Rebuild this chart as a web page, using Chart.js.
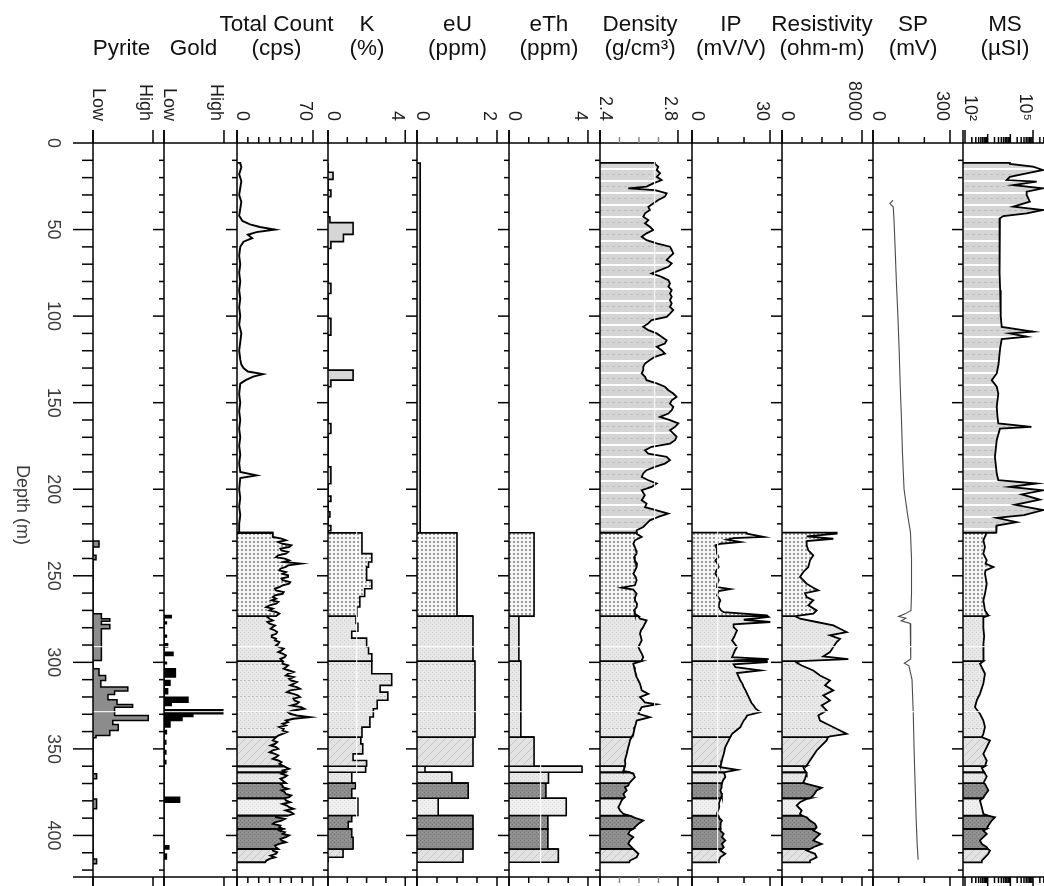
<!DOCTYPE html>
<html>
<head>
<meta charset="utf-8">
<title>Borehole logs</title>
<script src="https://cdn.jsdelivr.net/npm/chart.js@4.4.1/dist/chart.umd.min.js"></script>
<style>
  html, body { margin: 0; padding: 0; background: #fff; }
  #wrap { position: relative; width: 1044px; height: 886px; }
</style>
</head>
<body>
<div id="wrap"><canvas id="logChart" width="1044" height="886"></canvas></div>
<script>
// ---- data (depth in m) ----
const zoneTops    = [11.5, 225.1, 273.3, 299.3, 343.2, 360.0, 363.5, 369.8, 378.5, 388.5, 396.2, 407.8];
const zoneBottoms = [225.1, 273.3, 299.3, 343.2, 360.0, 363.5, 369.8, 378.5, 388.5, 396.2, 407.8, 415.5];

const depthLabels = [0, 50, 100, 150, 200, 250, 300, 350, 400];

const trackTitle = ['', '', 'Total Count', 'K', 'eU', 'eTh', 'Density', 'IP', 'Resistivity', 'SP', 'MS'];
const trackUnit  = ['Pyrite', 'Gold', '(cps)', '(%)', '(ppm)', '(ppm)', '(g/cm³)', '(mV/V)', '(ohm-m)', '(mV)', '(µSI)'];
const axisLabelText  = [['Low', 'High'], ['Low', 'High'], ['0', '70'], ['0', '4'], ['0', '2'], ['0', '4'],
                        ['2.4', '2.8'], ['0', '30'], ['0', '8000'], ['0', '300'], ['10²', '10⁵']];
const axisLabelValue = [[0, 1], [0, 1], [0, 70], [0, 4], [0, 2], [0, 4], [2.4, 2.8], [0, 30], [0, 8000], [0, 300], [100, 100000]];
const axisTickValue  = [[0, 1], [0, 1], [0, 10, 20, 30, 40, 50, 60, 70], [0, 1, 2, 3, 4], [0, 0.5, 1, 1.5, 2], [0, 1, 2, 3, 4],
                        [2.4, 2.5, 2.6, 2.7, 2.8], [0, 10, 20, 30], [0, 2000, 4000, 6000, 8000], [0, 100, 200, 300], []];
// faint white reference lines seen inside the fills
const whiteDepthLines = [291, 328.4];
const whiteValueLines = {k: 1.5, eth: 1.6, den: 2.68, ip: 10};

// [top, bottom, value]
const pyriteSteps = [[229.9, 233.4, 0.1], [238.2, 240.7, 0.05], [271.9, 274.8, 0.14], [274.8, 276.2, 0.28], [276.2, 278.1, 0.14],
  [278.1, 280.6, 0.28], [280.6, 298.9, 0.14], [303.7, 307.6, 0.1], [307.6, 310.5, 0.21], [310.5, 314.3, 0.13],
  [314.3, 316.6, 0.58], [316.6, 318.6, 0.36], [318.6, 321.6, 0.25], [321.6, 324.3, 0.4], [324.3, 325.9, 0.66],
  [325.9, 330.7, 0.36], [330.7, 333.6, 0.92], [333.6, 335.9, 0.33], [335.9, 339.4, 0.42], [339.4, 342.3, 0.28],
  [342.3, 343.6, 0.05], [364.4, 367.3, 0.06], [378.9, 384.6, 0.06], [413.6, 416.4, 0.06]];

const goldSteps = [[272.9, 274.2, 0.12], [276.7, 277.7, 0.04], [284.4, 285.4, 0.04], [289.3, 291.2, 0.06], [294.1, 296.0, 0.15],
  [299.9, 300.8, 0.04], [303.7, 308.5, 0.19], [310.5, 313.3, 0.1], [315.3, 318.2, 0.06], [320.1, 323.0, 0.4],
  [323.0, 324.9, 0.12], [327.4, 329.7, 0.98], [329.7, 331.3, 0.48], [331.3, 333.6, 0.3], [333.6, 337.4, 0.1],
  [339.4, 341.3, 0.04], [345.1, 347.1, 0.03], [350.9, 352.9, 0.03], [356.7, 358.6, 0.03], [377.9, 380.8, 0.26],
  [405.9, 407.8, 0.08], [410.7, 413.6, 0.04]];

const kSteps = [[16.9, 21.0, 0.26], [27.2, 31.0, 0.15], [42.6, 46.0, 0.1], [46.0, 52.8, 1.3], [52.8, 57.0, 0.8], [57.0, 60.9, 0.15],
  [81.1, 86.9, 0.15], [101.3, 111.0, 0.15], [131.2, 137.0, 1.3], [137.0, 140.8, 0.15], [162.0, 167.8, 0.15], [187.1, 196.8, 0.15],
  [204, 207, 0.15], [213, 216, 0.1], [221, 224, 0.15],
  [225.1, 237.2, 1.76], [237.2, 242, 2.27], [242, 245, 2.1], [245, 252.6, 2.0], [252.6, 257.5, 2.27], [257.5, 262, 1.9],
  [262, 268, 1.65], [268, 273.3, 1.5],
  [273.3, 277.5, 1.45], [277.5, 282, 1.55], [282, 286, 1.23], [286, 291, 2.0], [291, 295, 2.1], [295, 299.3, 2.27],
  [299.3, 306.6, 2.27], [306.6, 313.3, 3.3], [313.3, 317.2, 2.7], [317.2, 321.9, 3.1], [321.9, 326.8, 2.55],
  [326.8, 331.6, 2.35], [331.6, 337.4, 2.17], [337.4, 343.2, 1.76],
  [343.2, 347.1, 1.7], [347.1, 352.9, 1.8], [352.9, 356.7, 1.3], [356.7, 360, 2.0],
  [360, 363.5, 1.95], [363.5, 369.8, 1.23], [369.8, 373, 1.43], [373, 378.5, 1.23], [378.5, 388.5, 1.55],
  [388.5, 392, 1.23], [392, 396.2, 1.05], [396.2, 401, 1.23], [401, 407.8, 1.3], [407.8, 412.6, 0.78]];

const euSteps = [[11.6, 225.1, 0.08], [225.1, 273.3, 1.0], [273.3, 299.3, 1.4], [299.3, 343.2, 1.45], [343.2, 360, 1.4],
  [360, 363.5, 0.2], [363.5, 369.8, 0.87], [369.8, 378.5, 1.28], [378.5, 388.5, 0.53], [388.5, 396.2, 1.4],
  [396.2, 407.8, 1.4], [407.8, 415.5, 1.15]];

const ethSteps = [[225.1, 273.3, 1.27], [273.3, 299.3, 0.5], [299.3, 343.2, 0.6], [343.2, 360, 1.27], [360, 363.5, 3.7],
  [363.5, 369.8, 2.0], [369.8, 378.5, 1.87], [378.5, 388.5, 2.9], [388.5, 396.2, 1.97], [396.2, 407.8, 1.97],
  [407.8, 415.5, 2.5]];

// [depth, value]
const totalCount = [[11.6, 3], [14, 4], [18, 2], [22, 4], [26, 3], [30, 2], [34, 4], [38, 3], [42, 2], [45, 5], [47, 12],
  [48.5, 21], [50, 35], [51.5, 18], [53, 10], [55, 14], [57, 6], [60, 3], [65, 2], [70, 3], [75, 2], [80, 3], [85, 2],
  [90, 3], [95, 2], [100, 3], [105, 2], [110, 4], [115, 3], [120, 2], [125, 3], [128, 4], [130, 6], [132, 10],
  [133.5, 24], [135, 15], [137, 8], [139, 3], [145, 2], [150, 3], [155, 2], [160, 3], [165, 2], [170, 3], [175, 2],
  [180, 3], [185, 2], [190, 3], [192, 18], [193.5, 3], [200, 2], [205, 3], [210, 2], [215, 3], [220, 2], [225.1, 2],
  [225.1, 33], [227.6, 33], [228.5, 41], [229.5, 45], [230.5, 38], [231.5, 42], [232.4, 50], [233.4, 48], [234.3, 40],
  [235.3, 41], [236.2, 47], [237.2, 45], [238.2, 38], [239.2, 36], [240.1, 44], [241.1, 48], [242.0, 43], [243.0, 59],
  [244.0, 47], [244.9, 45], [245.9, 40], [246.9, 39], [247.8, 45], [248.8, 42], [249.7, 47], [250.7, 47], [251.6, 41],
  [252.6, 42], [253.6, 49], [254.6, 48], [255.5, 42], [256.5, 39], [257.4, 35], [258.4, 36], [259.4, 43], [260.4, 42],
  [261.3, 35], [262.3, 33], [263.2, 36], [264.2, 32], [265.1, 38], [266.1, 36], [267.1, 30], [268.1, 27], [269.0, 33],
  [270.0, 30], [270.9, 36], [271.9, 39], [273.3, 36],
  [273.3, 27], [274.8, 30], [275.8, 33], [276.7, 28], [277.7, 30], [278.7, 35], [279.6, 33], [280.6, 31], [281.6, 35],
  [282.5, 37], [283.5, 36], [284.4, 32], [285.4, 32], [286.4, 36], [287.3, 35], [288.3, 39], [289.3, 38], [290.2, 36],
  [291.2, 39], [292.1, 43], [293.1, 41], [294.1, 38], [295.0, 42], [296.0, 45], [297.0, 44], [298.0, 40], [299.3, 42],
  [300.8, 42], [301.8, 47], [302.8, 45], [303.7, 43], [304.7, 48], [305.6, 52], [306.6, 47], [307.6, 45], [308.5, 52],
  [309.5, 48], [310.5, 50], [311.4, 55], [312.4, 52], [313.3, 49], [314.3, 55], [315.3, 58], [316.2, 49], [317.2, 46],
  [318.2, 52], [319.1, 56], [320.1, 58], [321.0, 52], [322.0, 53], [323.0, 57], [324.0, 55], [324.9, 50], [325.9, 59],
  [326.8, 62], [327.8, 52], [328.8, 47], [329.7, 49], [330.7, 55], [331.7, 67], [332.6, 52], [333.6, 45], [334.5, 47],
  [335.5, 42], [336.5, 45], [337.4, 39], [338.4, 43], [339.4, 42], [340.3, 46], [341.3, 42], [342.3, 38], [343.2, 36],
  [345.1, 33], [346.1, 37], [347.1, 35], [348.0, 31], [349.0, 36], [350.0, 38], [350.9, 33], [351.9, 30], [352.9, 35],
  [353.8, 38], [354.8, 36], [355.7, 33], [356.7, 38], [357.7, 41], [358.6, 39], [360.0, 43], [360.6, 45], [361.5, 48],
  [362.5, 42], [363.5, 44], [364.4, 41], [365.4, 46], [366.3, 44], [367.3, 40], [368.3, 42], [369.8, 45], [369.8, 39],
  [371.2, 42], [372.1, 42], [373.1, 47], [374.0, 41], [375.0, 44], [376.0, 45], [376.9, 50], [377.9, 48], [378.5, 44],
  [379.8, 45], [380.8, 49], [381.8, 42], [382.7, 46], [383.7, 48], [384.6, 52], [385.6, 45], [386.6, 50], [387.5, 52],
  [388.5, 47], [388.5, 36], [389.5, 36], [390.4, 44], [391.4, 41], [392.4, 35], [393.3, 33], [394.3, 40], [395.2, 39],
  [396.2, 42], [397.2, 39], [398.1, 44], [399.1, 42], [400.0, 48], [401.0, 45], [402.0, 40], [402.9, 41], [403.9, 45],
  [404.9, 39], [405.8, 35], [406.8, 36], [407.8, 38], [407.8, 33], [408.7, 33], [409.7, 37], [410.6, 36], [411.6, 31],
  [412.6, 35], [413.5, 30], [414.5, 27], [415.5, 26]];

const density = [[12.1, 2.682], [13.7, 2.699], [15.6, 2.691], [17.5, 2.708], [19.5, 2.691], [21.4, 2.716], [23.3, 2.673],
  [25.2, 2.639], [26.2, 2.545], [27.2, 2.682], [29.1, 2.742], [31.0, 2.733], [32.9, 2.699], [34.9, 2.673], [36.8, 2.648],
  [38.7, 2.656], [40.6, 2.631], [42.6, 2.622], [44.5, 2.648], [46.4, 2.631], [48.4, 2.656], [50.3, 2.673], [52.2, 2.639],
  [54.1, 2.614], [56.1, 2.639], [58.0, 2.691], [59.9, 2.759], [61.8, 2.768], [63.8, 2.776], [65.7, 2.759], [67.6, 2.742],
  [69.5, 2.768], [71.5, 2.751], [73.4, 2.708], [75.3, 2.665], [77.3, 2.716], [79.2, 2.751], [81.1, 2.759], [83.0, 2.751],
  [85.0, 2.768], [86.9, 2.759], [88.8, 2.768], [90.8, 2.759], [92.7, 2.768], [94.6, 2.759], [96.5, 2.776], [98.5, 2.759],
  [100.4, 2.742], [102.3, 2.665], [104.2, 2.648], [106.2, 2.622], [108.1, 2.648], [110.0, 2.691], [111.9, 2.716],
  [113.9, 2.742], [115.8, 2.733], [117.7, 2.691], [119.7, 2.716], [121.6, 2.733], [123.5, 2.682], [125.4, 2.656],
  [127.4, 2.631], [129.3, 2.622], [131.2, 2.622], [133.1, 2.614], [135.1, 2.631], [137.0, 2.639], [138.9, 2.691],
  [140.8, 2.733], [142.8, 2.751], [144.7, 2.776], [146.6, 2.793], [148.6, 2.768], [150.5, 2.759], [152.4, 2.776],
  [154.3, 2.768], [156.3, 2.751], [158.2, 2.708], [160.1, 2.759], [162.0, 2.802], [164.0, 2.785], [165.9, 2.759],
  [167.8, 2.776], [169.7, 2.793], [171.7, 2.785], [173.6, 2.759], [175.5, 2.665], [177.5, 2.631], [179.4, 2.648],
  [181.3, 2.742], [183.2, 2.759], [185.2, 2.733], [187.1, 2.682], [189.0, 2.639], [190.9, 2.622], [192.9, 2.614],
  [194.8, 2.648], [196.7, 2.691], [198.7, 2.665], [200.6, 2.614], [203.5, 2.63], [206.4, 2.614], [208.3, 2.639],
  [210.3, 2.631], [212.2, 2.691], [214.1, 2.750], [216.0, 2.699], [218.0, 2.656], [219.9, 2.639], [221.8, 2.622],
  [223.7, 2.588], [225.1, 2.588],
  [225.7, 2.588], [227.6, 2.614], [229.5, 2.579], [231.5, 2.571], [233.4, 2.579], [235.3, 2.585], [237.2, 2.588],
  [239.2, 2.575], [241.1, 2.579], [243.0, 2.59], [244.9, 2.588], [246.9, 2.58], [248.8, 2.571], [250.7, 2.583],
  [252.6, 2.588], [255.5, 2.579], [256.9, 2.511], [258.0, 2.571], [260.4, 2.588], [262.3, 2.58], [264.2, 2.579],
  [266.1, 2.59], [268.1, 2.588], [270.0, 2.575], [271.9, 2.579], [273.3, 2.597],
  [274.8, 2.605], [275.8, 2.639], [277.7, 2.63], [279.6, 2.622], [281.6, 2.61], [283.5, 2.605], [285.4, 2.61],
  [287.3, 2.614], [289.3, 2.605], [291.2, 2.597], [293.1, 2.605], [295.0, 2.614], [297.0, 2.622], [298.9, 2.614],
  [299.3, 2.614],
  [300.8, 2.571], [302.8, 2.575], [304.7, 2.579], [306.6, 2.584], [308.5, 2.588], [310.5, 2.597], [312.4, 2.605],
  [314.3, 2.61], [316.2, 2.614], [318.2, 2.648], [320.1, 2.605], [322.0, 2.622], [323.2, 2.63], [324.3, 2.691],
  [325.9, 2.614], [327.8, 2.605], [329.7, 2.597], [331.7, 2.656], [333.6, 2.588], [335.5, 2.584], [337.4, 2.579],
  [339.4, 2.575], [341.3, 2.571], [343.2, 2.562],
  [345.1, 2.554], [347.1, 2.55], [349.0, 2.545], [350.9, 2.541], [352.9, 2.537], [354.8, 2.532], [356.7, 2.528],
  [358.6, 2.53], [360.0, 2.528], [361.5, 2.524], [362.5, 2.520], [363.5, 2.55], [364.4, 2.571], [366.3, 2.579],
  [368.3, 2.562], [369.8, 2.55], [371.2, 2.545], [372.1, 2.528], [374.0, 2.537], [376.0, 2.520], [377.9, 2.528],
  [378.5, 2.52], [379.8, 2.511], [381.8, 2.503], [383.7, 2.494], [385.6, 2.503], [387.5, 2.520], [388.5, 2.55],
  [389.5, 2.571], [391.4, 2.622], [393.3, 2.597], [395.2, 2.579], [396.2, 2.57], [397.2, 2.554], [399.1, 2.545],
  [401.0, 2.571], [402.9, 2.554], [404.9, 2.545], [406.8, 2.562], [407.8, 2.57], [408.7, 2.579], [410.6, 2.597],
  [412.6, 2.588], [414.5, 2.554], [415.5, 2.55]];

const ipLog = [[225.1, 21], [225.7, 21.2], [227.6, 27.6], [228.3, 16], [229.1, 13.5], [230.5, 18.6], [231.5, 11],
  [232.4, 9.0], [234.3, 9.5], [237.2, 9.6], [239.2, 10.2], [241.1, 9.0], [243.0, 9.8], [244.9, 10.3], [246.9, 9.4],
  [248.8, 9.0], [250.7, 9.8], [252.6, 10.3], [254.6, 9.7], [256.5, 9.6], [257.7, 14.7], [258.8, 10.3], [261.3, 9.6],
  [262.3, 10.1], [264.2, 10.9], [266.1, 10.4], [268.1, 10.3], [270.0, 11.2], [271.0, 12.2], [272.9, 28.8], [273.3, 29],
  [273.8, 29.5], [275.4, 19.9], [276.7, 30.1], [278.1, 16.0], [279.6, 16.0], [281.6, 17.3], [283.5, 16.7], [285.4, 16.2],
  [287.3, 15.4], [289.3, 16.4], [291.2, 17.3], [293.1, 16.5], [295.0, 16.0], [297.0, 15.4], [298.1, 29.5], [298.9, 16.0],
  [299.3, 28.8], [299.9, 28.8], [301.2, 16.0], [302.8, 16.7], [304.7, 26.3], [306.2, 17.3], [308.5, 18.0], [310.5, 18.6],
  [312.4, 19.4], [314.3, 19.9], [316.2, 20.6], [318.2, 21.2], [320.1, 21.8], [322.0, 22.4], [323.5, 22.9], [324.9, 23.7],
  [326.8, 24.5], [328.8, 26.3], [330.7, 21.2], [332.6, 20.5], [333.6, 19.9], [335.5, 19.2], [337.4, 18.6], [339.4, 17.0],
  [341.3, 15.4], [343.2, 14.7], [345.1, 14.1], [347.1, 13.4], [349.0, 12.8], [350.9, 12.5], [352.9, 12.2], [354.8, 11.8],
  [356.7, 11.5], [358.6, 11.2], [360.0, 10.9], [360.6, 10.9], [362.1, 17.3], [363.5, 12.2], [365.0, 12.6], [366.3, 12.8],
  [368.0, 12.0], [369.8, 11.5], [371.2, 11.5], [372.5, 11.2], [374.0, 10.9], [375.5, 11.3], [376.9, 11.5], [378.5, 11.0],
  [378.9, 10.9], [380.4, 10.6], [381.8, 10.3], [383.2, 10.5], [384.6, 10.3], [386.0, 9.9], [387.5, 9.6], [388.5, 10.0],
  [389.5, 10.3], [391.4, 11.5], [392.8, 11.0], [394.3, 10.9], [396.2, 11.0], [397.2, 10.9], [399.1, 12.2], [401.0, 11.5],
  [402.9, 12.8], [404.9, 11.5], [406.8, 12.2], [407.8, 11.5], [408.7, 10.9], [410.6, 12.8], [412.6, 10.9], [414.5, 10.3],
  [415.5, 10.3]];

const resistivity = [[225.1, 5467], [225.7, 5467], [227.2, 2467], [228.6, 5133], [229.9, 2467], [232.4, 2467],
  [235.3, 2633], [238.2, 3133], [241.1, 2800], [244.9, 2633], [247.8, 2133], [250.7, 1800], [254.6, 2467], [256.9, 3133],
  [258.4, 3633], [260.0, 2300], [262.3, 2467], [264.2, 3133], [267.1, 2633], [270.0, 3467], [271.9, 3133], [273.3, 1333],
  [274.8, 1800], [276.7, 3467], [278.7, 5133], [280.6, 5800], [282.5, 6467], [284.4, 4800], [286.4, 5800], [288.3, 5467],
  [291.2, 5133], [294.1, 4800], [296.6, 4133], [298.1, 6633], [299.3, 1800], [300.2, 1467], [301.8, 1967], [304.7, 3133],
  [307.6, 3800], [310.5, 4800], [313.3, 4300], [316.2, 5133], [319.1, 4133], [322.0, 4800], [324.9, 3967], [327.8, 4467],
  [330.7, 3633], [333.6, 3800], [336.5, 4800], [339.4, 5800], [341.3, 6467], [342.8, 4800], [343.2, 4600], [345.1, 4467],
  [348.0, 3967], [350.9, 3467], [353.8, 3133], [356.7, 2800], [359.6, 2467], [360.0, 2400], [360.6, 2133], [362.5, 2300],
  [363.5, 2400], [364.4, 2467], [367.3, 2300], [369.2, 2133], [369.8, 2200], [371.2, 3133], [372.5, 3967], [374.0, 3467],
  [376.9, 3133], [378.5, 2800], [378.9, 2467], [380.8, 1800], [382.7, 1467], [385.6, 1967], [387.5, 1800], [388.5, 2000],
  [389.5, 2467], [391.4, 2800], [393.3, 3300], [395.2, 3467], [396.2, 3300], [397.2, 3133], [399.1, 3800], [401.0, 3467],
  [402.9, 3133], [404.9, 3967], [406.8, 3133], [407.8, 2800], [408.7, 2467], [410.6, 3300], [412.6, 3467], [414.5, 2800],
  [415.5, 2800]];

const spLog = [[33, 78], [35, 66], [37, 79], [45, 82], [60, 86], [80, 91], [100, 97], [120, 102], [140, 106], [160, 111],
  [180, 115], [200, 121], [215, 135], [225, 146], [240, 150], [260, 150], [270, 148], [272, 125], [273.5, 100],
  [274.5, 128], [276, 110], [277.5, 145], [285, 148], [298, 146], [300.5, 122], [302, 140], [310, 152], [330, 157],
  [350, 160], [370, 164], [390, 168], [405, 172], [414, 176]];

const msLog = [[12.1, 9550], [13.7, 100000], [15.6, 275000], [17.5, 52500], [19.5, 9550], [21.4, 6920], [22.3, 145000],
  [24.3, 13500], [26.2, 275000], [28.1, 52500], [30.0, 52500], [33.9, 72400], [36.8, 13500], [38.7, 275000],
  [40.6, 52500], [42.2, 4900], [43.5, 3470], [50, 3300], [56.1, 3240], [65, 3400], [75.3, 3470], [85, 3550],
  [94.6, 3720], [100, 3800], [106.2, 4170], [109.0, 100000], [110.0, 9550], [111.9, 52500], [113.3, 4170], [118, 3600],
  [123.5, 3240], [128, 3000], [133.1, 2510], [137.0, 1510], [140.8, 2510], [144.7, 2950], [152.4, 2510], [158, 2700],
  [162.0, 2950], [164.0, 85000], [165.0, 3470], [171.7, 2510], [181.3, 2090], [190.9, 2510], [194.8, 2950],
  [196.7, 145000], [198.7, 9550], [200.6, 275000], [203, 31600], [206, 200000], [209, 16000], [212, 275000],
  [215, 40000], [216.5, 2510], [219, 19000], [221, 2510], [223, 2400], [225.1, 2400],
  [225.1, 910], [229.5, 645], [233.4, 760], [237.2, 645], [241.1, 910], [243, 800], [244.9, 1780], [246.9, 800],
  [248.8, 760], [254.6, 910], [260.4, 760], [264.2, 645], [270.0, 760], [272.9, 1070], [273.3, 900], [274, 645],
  [280, 645], [285, 700], [290, 645], [295, 660], [299.3, 650], [300.8, 457], [306.6, 760], [312.3, 645], [318.2, 457],
  [322.0, 330], [325.9, 275], [329.7, 457], [333.6, 645], [337.4, 760], [341.3, 645], [343.2, 550], [345.1, 1260],
  [349.0, 910], [352.9, 645], [356.7, 910], [360, 760], [361, 550], [363.5, 700], [366, 910], [369.8, 645], [370.2, 760],
  [374.0, 1070], [377.9, 645], [378.5, 600], [379.8, 457], [383.7, 550], [387.5, 645], [388.5, 1000], [389.5, 2090],
  [391.4, 1510], [394.3, 1070], [396.2, 900], [397.2, 645], [399.1, 910], [401.0, 645], [402.9, 457], [404.9, 550],
  [406.8, 910], [407.8, 1000], [408.7, 1260], [410.6, 1070], [412.6, 760], [414.5, 550], [415.5, 550]];

// ---- layout / style ----
const trackIds   = ['pyrite', 'gold', 'tc', 'k', 'eu', 'eth', 'den', 'ip', 'res', 'sp', 'ms'];
const trackWidth = [71, 73, 91, 89, 92, 91, 92, 90, 91, 90, 81];
const axisMin    = [0, 0, 0, 0, 0, 0, 2.4, 0, 0, 0, 81.6];
const axisMax    = [1.183, 1.217, 83.8, 4.61, 2.3, 4.61, 2.872, 34.6, 9100, 350.6, 305000];
const headerX    = [121.5, 193.5, 276.5, 367, 457.5, 549, 640, 731, 822, 913, 1005];

// MS log-axis minor ticks
for (let e = 2; e <= 5; e++) {
  for (let m = 1; m <= 9; m++) {
    const v = m * Math.pow(10, e);
    if (v <= 305000) axisTickValue[10].push(v);
  }
}

function pattern(w, h, paint) {
  const c = document.createElement('canvas');
  c.width = w; c.height = h;
  const g = c.getContext('2d');
  paint(g);
  return g.createPattern(c, 'repeat');
}
const stripeFill = pattern(6, 12, g => {
  g.fillStyle = '#d5d5d5'; g.fillRect(0, 0, 6, 12);
  g.fillStyle = '#ffffff'; g.fillRect(0, 0, 6, 2);
  g.fillStyle = '#bcbcbc'; g.fillRect(0, 6, 3, 1);
});
const dotFill = pattern(4, 4, g => {
  g.fillStyle = '#f6f6f6'; g.fillRect(0, 0, 4, 4);
  g.fillStyle = '#9c9c9c'; g.fillRect(1, 1, 2, 2);
});
const crossFill = pattern(4, 4, g => {
  g.fillStyle = '#e7e7e7'; g.fillRect(0, 0, 4, 4);
  g.fillStyle = '#cfcfcf'; g.fillRect(0, 0, 1, 1); g.fillRect(2, 2, 1, 1);
});
const crossLineFill = pattern(4, 16, g => {
  g.fillStyle = '#e8e8e8'; g.fillRect(0, 0, 4, 16);
  g.fillStyle = '#d0d0d0';
  for (let y = 0; y < 16; y += 2) g.fillRect(y % 4 ? 2 : 0, y, 1, 1);
  g.fillStyle = '#bdbdbd'; g.fillRect(0, 8, 2, 1);
});
const paleCrossFill = pattern(4, 4, g => {
  g.fillStyle = '#efefef'; g.fillRect(0, 0, 4, 4);
  g.fillStyle = '#dadada'; g.fillRect(0, 0, 1, 1); g.fillRect(2, 2, 1, 1);
});
const diagFill = pattern(8, 8, g => {
  g.fillStyle = '#e2e2e2'; g.fillRect(0, 0, 8, 8);
  g.strokeStyle = '#c6c6c6'; g.lineWidth = 1;
  g.beginPath(); g.moveTo(-1, 9); g.lineTo(9, -1); g.stroke();
});
const darkFill = pattern(4, 4, g => {
  g.fillStyle = '#8e8e8e'; g.fillRect(0, 0, 4, 4);
  g.fillStyle = '#747474'; g.fillRect(0, 0, 1, 1); g.fillRect(2, 2, 1, 1);
  g.fillStyle = '#a2a2a2'; g.fillRect(2, 0, 1, 1);
});
const zoneFills = [stripeFill, dotFill, crossFill, crossLineFill, diagFill, '#eeeeee', crossFill, darkFill,
  paleCrossFill, darkFill, darkFill, diagFill];

function withTopFill(fill) { return [fill].concat(zoneFills.slice(1)); }

function stepPoints(steps, base) {
  const pts = [];
  steps.forEach(([top, bottom, v], i) => {
    const prev = steps[i - 1], next = steps[i + 1];
    if (!prev || prev[1] !== top) pts.push({x: base, y: top});
    pts.push({x: v, y: top}, {x: v, y: bottom});
    if (!next || next[0] !== bottom) pts.push({x: base, y: bottom});
  });
  return pts;
}
function curvePoints(log) { return log.map(([d, v]) => ({x: v, y: d})); }

function lineSet(axisId, data, fill, base, width) {
  return {
    xAxisID: axisId, yAxisID: 'y', data,
    borderColor: '#000', borderWidth: width,
    backgroundColor: fill, fill: fill ? {value: base} : false,
    pointRadius: 0, tension: 0
  };
}

function zoneSets(axisId, pts, base, fills, width) {
  const sets = [];
  zoneTops.forEach((top, z) => {
    const bottom = zoneBottoms[z];
    const inside = pts.filter(p => p.y >= top && p.y <= bottom);
    if (inside.length < 2) return;
    const first = inside[0], last = inside[inside.length - 1];
    if (last.y - first.y <= 0) return; // nothing but a boundary point in this zone
    const data = [{x: base, y: top}];
    if (first.y > top) data.push({x: first.x, y: top});
    data.push(...inside);
    if (last.y < bottom) data.push({x: last.x, y: bottom});
    data.push({x: base, y: bottom});
    sets.push(lineSet(axisId, data, fills[z], base, width));
  });
  return sets;
}

const datasets = [].concat(
  [lineSet('pyrite', stepPoints(pyriteSteps, 0), '#8c8c8c', 0, 1.5)],
  [lineSet('gold', stepPoints(goldSteps, 0), '#000000', 0, 1.5)],
  zoneSets('tc', curvePoints(totalCount), 0, withTopFill('#f3f3f3'), 1.9),
  zoneSets('k', stepPoints(kSteps, 0), 0, withTopFill('#d6d6d6'), 1.6),
  zoneSets('eu', stepPoints(euSteps, 0), 0, withTopFill('#d6d6d6'), 1.6),
  zoneSets('eth', stepPoints(ethSteps, 0), 0, zoneFills, 1.6),
  zoneSets('den', curvePoints(density), 2.4, zoneFills, 1.8),
  zoneSets('ip', curvePoints(ipLog), 0, zoneFills, 1.8),
  zoneSets('res', curvePoints(resistivity), 0, zoneFills, 1.8),
  [lineSet('sp', curvePoints(spLog), null, 0, 1.1)],
  zoneSets('ms', curvePoints(msLog), 81.6, zoneFills, 1.8)
);
datasets.forEach(ds => { if (ds.xAxisID === 'sp') ds.borderColor = '#4a4a4a'; });

const scales = {
  y: {
    axis: 'y', type: 'linear', position: 'left', reverse: true, min: 0, max: 424, bounds: 'data',
    grid: {display: true, drawTicks: false, color: 'rgba(255,255,255,0.85)', lineWidth: 1.2, z: 1},
    border: {display: false}, ticks: {display: false},
    afterBuildTicks: s => { s.ticks = whiteDepthLines.map(v => ({value: v})); },
    afterFit: s => { s.width = 0; }
  }
};
trackIds.forEach((id, i) => {
  const white = whiteValueLines[id];
  scales[id] = {
    axis: 'x', type: id === 'ms' ? 'logarithmic' : 'linear', position: 'bottom',
    stack: 'tracks', stackWeight: trackWidth[i],
    min: axisMin[i], max: axisMax[i], bounds: 'data',
    grid: white === undefined ? {display: false}
      : {display: true, drawTicks: false, color: 'rgba(255,255,255,0.85)', lineWidth: 1.2, z: 1},
    border: {display: false}, ticks: {display: false},
    afterBuildTicks: s => { s.ticks = white === undefined ? [] : [{value: white}]; },
    afterFit: s => { s.height = 0; }
  };
});

const FONT = '"Liberation Sans", Arial, sans-serif';

const logFrame = {
  id: 'logFrame',
  afterDraw(chart) {
    const ctx = chart.ctx;
    const area = chart.chartArea;
    const yScale = chart.scales.y;
    const topY = area.top, botY = area.bottom;
    const seg = (x1, y1, x2, y2) => { ctx.beginPath(); ctx.moveTo(x1, y1); ctx.lineTo(x2, y2); ctx.stroke(); };
    ctx.save();
    ctx.strokeStyle = '#000';
    ctx.lineWidth = 1.5;
    seg(73, topY, 1044, topY);
    seg(73, botY, 1044, botY);

    trackIds.forEach((id, i) => {
      const s = chart.scales[id];
      ctx.strokeStyle = '#000';
      ctx.lineWidth = 1.5;
      seg(s.left, topY - 13, s.left, botY + 13);
      // depth ticks on the left of each track
      for (let d = 10; d <= 420; d += 10) {
        const py = yScale.getPixelForValue(d);
        const major = d % 50 === 0;
        const len = i === 0 ? (major ? 20 : 11) : (major ? 11 : 5);
        seg(s.left - len, py, s.left, py);
      }
      // value ticks (top and bottom)
      axisTickValue[i].forEach(v => {
        const px = s.getPixelForValue(v);
        const tall = axisLabelValue[i].includes(v);
        const len = tall ? 13 : (id === 'ms' && [1000, 10000].includes(v) ? 9 : 6);
        ctx.strokeStyle = id === 'den' && !tall ? '#8a8a8a' : '#000';
        seg(px, topY, px, topY - len);
        seg(px, botY, px, botY + len);
      });
      // rotated value labels
      ctx.fillStyle = '#1e1e1e';
      ctx.font = '18px ' + FONT;
      ctx.textAlign = 'right';
      ctx.textBaseline = 'middle';
      axisLabelValue[i].forEach((v, j) => {
        const px = s.getPixelForValue(v) + (j === 0 ? 5 : -8);
        ctx.save();
        ctx.translate(px, 121);
        ctx.rotate(Math.PI / 2);
        ctx.fillText(axisLabelText[i][j], 0, 0);
        ctx.restore();
      });
      // header
      ctx.fillStyle = '#111';
      ctx.font = '22.5px ' + FONT;
      ctx.textAlign = 'center';
      ctx.textBaseline = 'alphabetic';
      if (trackTitle[i]) ctx.fillText(trackTitle[i], headerX[i], 31);
      ctx.fillText(trackUnit[i], headerX[i], 55);
    });

    // depth labels
    ctx.fillStyle = '#3c3c3c';
    ctx.font = '18px ' + FONT;
    ctx.textAlign = 'center';
    ctx.textBaseline = 'middle';
    depthLabels.forEach(d => {
      ctx.save();
      ctx.translate(53, yScale.getPixelForValue(d));
      ctx.rotate(Math.PI / 2);
      ctx.fillText(String(d), 0, 0);
      ctx.restore();
    });
    ctx.save();
    ctx.translate(22, 505);
    ctx.rotate(Math.PI / 2);
    ctx.fillText('Depth (m)', 0, 0);
    ctx.restore();
    ctx.restore();
  }
};

new Chart(document.getElementById('logChart').getContext('2d'), {
  type: 'line',
  data: {datasets},
  options: {
    indexAxis: 'y',
    responsive: false,
    animation: false,
    events: [],
    layout: {padding: {left: 93, right: 0, top: 143, bottom: 9}},
    scales,
    plugins: {legend: {display: false}, tooltip: {enabled: false}},
    elements: {point: {radius: 0}, line: {tension: 0}}
  },
  plugins: [logFrame]
});
</script>
</body>
</html>
